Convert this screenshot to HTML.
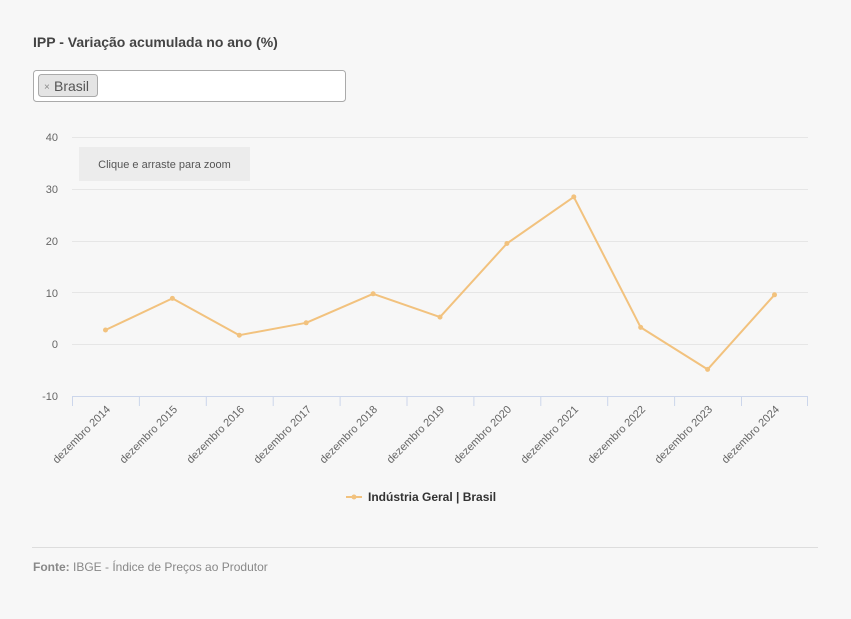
<!DOCTYPE html>
<html><head><meta charset="utf-8"><style>
body{margin:0;background:#f7f7f7;font-family:"Liberation Sans",sans-serif;}
</style></head><body>
<svg width="851" height="619" xmlns="http://www.w3.org/2000/svg" style="display:block">
<rect width="851" height="619" fill="#f7f7f7"/>
<text x="33" y="47" font-size="14" font-weight="bold" fill="#444">IPP - Variação acumulada no ano (%)</text>
<rect x="33.5" y="70.5" width="312" height="31" rx="3" fill="#fff" stroke="#aaa"/>
<rect x="38.5" y="74.5" width="59" height="22" rx="3" fill="#e4e4e4" stroke="#aaa"/>
<text x="44" y="90" font-size="10" fill="#888">×</text>
<text x="54" y="91" font-size="14" fill="#555">Brasil</text>
<g stroke="#e6e6e6" stroke-width="1">
<line x1="72" x2="808" y1="137.5" y2="137.5"/>
<line x1="72" x2="808" y1="189.5" y2="189.5"/>
<line x1="72" x2="808" y1="241.5" y2="241.5"/>
<line x1="72" x2="808" y1="292.5" y2="292.5"/>
<line x1="72" x2="808" y1="344.5" y2="344.5"/>
</g>
<g font-size="11" fill="#666" text-anchor="end">
<text x="58" y="141">40</text><text x="58" y="193">30</text><text x="58" y="245">20</text>
<text x="58" y="297">10</text><text x="58" y="348">0</text><text x="58" y="400">-10</text>
</g>
<rect x="79" y="147" width="171" height="34" fill="#ececec"/>
<text x="164.5" y="168" font-size="11" fill="#555" text-anchor="middle">Clique e arraste para zoom</text>
<g stroke="#ccd6eb" stroke-width="1">
<line x1="72" x2="808" y1="396.5" y2="396.5"/>
<line x1="72.5" x2="72.5" y1="396" y2="406"/><line x1="139.4" x2="139.4" y1="396" y2="406"/>
<line x1="206.3" x2="206.3" y1="396" y2="406"/><line x1="273.2" x2="273.2" y1="396" y2="406"/>
<line x1="340.1" x2="340.1" y1="396" y2="406"/><line x1="407" x2="407" y1="396" y2="406"/>
<line x1="473.9" x2="473.9" y1="396" y2="406"/><line x1="540.8" x2="540.8" y1="396" y2="406"/>
<line x1="607.7" x2="607.7" y1="396" y2="406"/><line x1="674.6" x2="674.6" y1="396" y2="406"/>
<line x1="741.5" x2="741.5" y1="396" y2="406"/><line x1="807.5" x2="807.5" y1="396" y2="406"/>
</g>
<g font-size="11" fill="#666" text-anchor="end">
<text transform="translate(111,410) rotate(-45)">dezembro 2014</text>
<text transform="translate(178,410) rotate(-45)">dezembro 2015</text>
<text transform="translate(245,410) rotate(-45)">dezembro 2016</text>
<text transform="translate(312,410) rotate(-45)">dezembro 2017</text>
<text transform="translate(378,410) rotate(-45)">dezembro 2018</text>
<text transform="translate(445,410) rotate(-45)">dezembro 2019</text>
<text transform="translate(512,410) rotate(-45)">dezembro 2020</text>
<text transform="translate(579,410) rotate(-45)">dezembro 2021</text>
<text transform="translate(646,410) rotate(-45)">dezembro 2022</text>
<text transform="translate(713,410) rotate(-45)">dezembro 2023</text>
<text transform="translate(780,410) rotate(-45)">dezembro 2024</text>
</g>
<polyline fill="none" stroke="#f2c27e" stroke-width="2" stroke-linejoin="round" points="105.5,330 172.4,298.4 239.3,335.2 306.2,322.8 373.1,293.8 440,317.1 506.9,243.5 573.8,196.9 640.7,327.4 707.6,369.4 774.5,294.8"/>
<g fill="#f2c27e">
<circle cx="105.5" cy="330" r="2.5"/><circle cx="172.4" cy="298.4" r="2.5"/><circle cx="239.3" cy="335.2" r="2.5"/>
<circle cx="306.2" cy="322.8" r="2.5"/><circle cx="373.1" cy="293.8" r="2.5"/><circle cx="440" cy="317.1" r="2.5"/>
<circle cx="506.9" cy="243.5" r="2.5"/><circle cx="573.8" cy="196.9" r="2.5"/><circle cx="640.7" cy="327.4" r="2.5"/>
<circle cx="707.6" cy="369.4" r="2.5"/><circle cx="774.5" cy="294.8" r="2.5"/>
</g>
<line x1="346" x2="362" y1="497" y2="497" stroke="#f2c27e" stroke-width="2"/>
<circle cx="354" cy="497" r="2.5" fill="#f2c27e"/>
<text x="368" y="501" font-size="12" font-weight="bold" fill="#333">Indústria Geral | Brasil</text>
<line x1="32" x2="818" y1="547.5" y2="547.5" stroke="#ddd"/>
<text x="33" y="571" font-size="12" fill="#888"><tspan font-weight="bold">Fonte:</tspan> IBGE - Índice de Preços ao Produtor</text>
</svg>
</body></html>
